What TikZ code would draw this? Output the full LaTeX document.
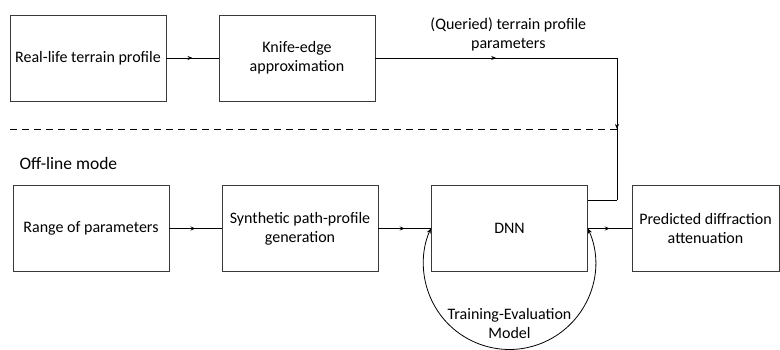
\documentclass[tikz,border=0pt]{standalone}
\usepackage{fontspec}
\setmainfont{Carlito}
\usetikzlibrary{arrows.meta,positioning,calc,decorations.markings}
\definecolor{cEDGE}{HTML}{3A3A3A}

\begin{document}
\begin{tikzpicture}[x=1pt, y=-1pt, font=\fontsize{16}{19}\selectfont, >={Stealth[length=5pt,width=4pt]},
  blk/.style={draw=cEDGE, line width=0.9pt, minimum width=156pt, minimum height=86pt, align=center, inner sep=2pt},
  midarr/.style={line width=0.8pt, decoration={markings, mark=at position 0.5 with {\arrow{>}}}, postaction={decorate}}]
\useasboundingbox (0,0) rectangle (780,350);
% on-line part
\node[blk] (real) at (88,58) {Real-life terrain profile};
\node[blk] (knife) at (297,58) {Knife-edge\\ approximation};
\coordinate (qc) at (617,58);
\coordinate (qe) at (617,200);
\draw[midarr] (real) -- (knife);
\draw[midarr] (knife) -- node[pos=0.55, above=3pt, align=center] {(Queried) terrain profile\\ parameters} (qc);
\draw[midarr] (qc) -- (qe);
% separator
\coordinate (sepl) at (10,129);
\coordinate (sepr) at (617,129);
\draw[line width=0.8pt, dash pattern=on 7pt off 5pt] (sepl) -- (sepr);
\node[anchor=west, font=\fontsize{17.5}{20}\selectfont] (mode) at (16,163) {Off-line mode};
% off-line part
\node[blk] (range) at (91,228.5) {Range of parameters};
\node[blk] (synth) at (300,228.5) {Synthetic path-profile\\ generation};
\node[blk] (dnn) at (509.5,228.5) {DNN};
\node[blk, minimum width=147pt] (pred) at (705.5,228.5) {Predicted diffraction\\ attenuation};
\draw[line width=0.8pt] (qe) -- (qe -| dnn.east);
\draw[midarr] (range) -- (synth);
\draw[midarr] (synth) -- (dnn);
\draw[midarr] (dnn) -- (pred);
% training loop
\draw[<->, line width=0.8pt] (dnn.east) arc[start angle=-24, end angle=204, radius=86];
\node[align=center] (train) at (509.5,323) {Training-Evaluation\\ Model};
\end{tikzpicture}
\end{document}
